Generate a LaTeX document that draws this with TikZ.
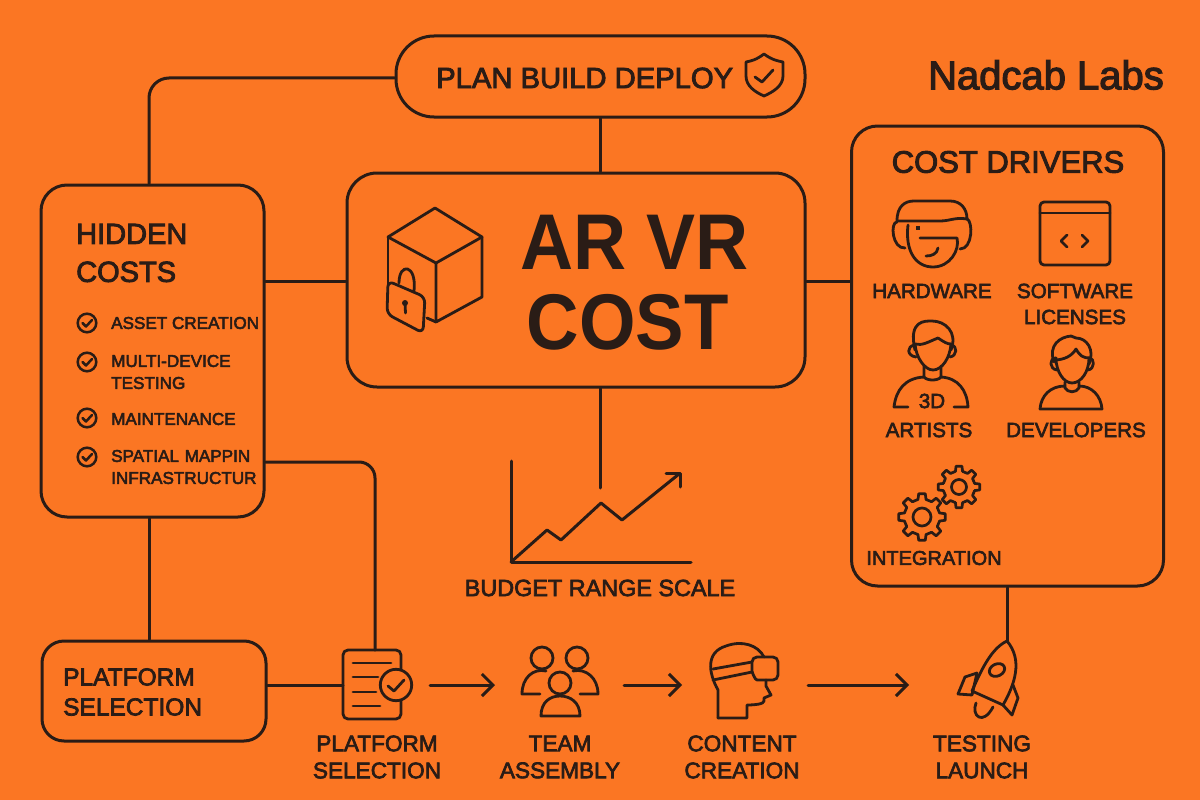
\documentclass[tikz,border=0pt]{standalone}
\usepackage{fontspec}
\setmainfont{Liberation Sans}
\newfontfamily\medf[FakeBold=3]{Liberation Sans}
\usetikzlibrary{arrows.meta,calc}
\definecolor{bgor}{HTML}{FB7623}
\definecolor{ink}{HTML}{2A1C16}
\tikzset{
 x=1pt,y=-1pt,
 ln/.style={draw=ink,line width=3pt,line cap=round,line join=round},
 ic/.style={draw=ink,line width=2.8pt,line cap=round,line join=round},
 lbl/.style={text=ink,align=center,inner sep=0pt,font=\medf\fontsize{20.6}{26}\selectfont,anchor=center},
 small/.style={text=ink,align=left,inner sep=0pt,font=\medf\fontsize{17.1}{22}\selectfont,anchor=west},
 arr/.style={ln,-{Straight Barb[length=11pt,width=22pt,line width=3pt]}},
}
\newcommand\gearat[5]{\draw[ic,line width=2.7pt] (#1,#2) circle (#5pt);
 \foreach \a in {0,45,...,315}{
  \draw[ic,line width=2.7pt] ($(#1,#2)+({\a-13}:#3pt)$) -- ($(#1,#2)+({\a-8}:#4pt)$) -- ($(#1,#2)+({\a+8}:#4pt)$) -- ($(#1,#2)+({\a+13}:#3pt)$) -- ($(#1,#2)+({\a+32}:#3pt)$);
 }}
\begin{document}
\begin{tikzpicture}
\fill[bgor] (0,0) rectangle (1200,800);
\useasboundingbox (0,0) rectangle (1200,800);
\node[draw=ink,line width=3pt,rounded corners=38pt,minimum width=409pt,minimum height=81pt,inner sep=0pt] (top) at (600.5,76.5) {};
\node[lbl,anchor=west,font=\medf\fontsize{29.2}{30}\selectfont] (plan) at (436,78) {PLAN BUILD DEPLOY};
\node[text=ink,inner sep=0pt,anchor=east,font=\medf\fontsize{40}{42}\selectfont] (brand) at (1164,75) {Nadcab Labs};
\node[draw=ink,line width=3pt,rounded corners=30pt,minimum width=458pt,minimum height=214pt,inner sep=0pt] (main) at (576,280) {};
\node[lbl,font=\fontsize{79}{80}\selectfont\bfseries] (arv) at (634.5,242) {\scalebox{0.93}[1]{AR VR}};
\node[lbl,font=\fontsize{79}{80}\selectfont\bfseries] (cost) at (627.5,322) {\scalebox{0.92}[1]{COST}};
\node[draw=ink,line width=3pt,rounded corners=26pt,minimum width=223pt,minimum height=332pt,inner sep=0pt] (hid) at (152.5,351) {};
\node[lbl,anchor=west,font=\medf\fontsize{29}{38}\selectfont,align=left] (hc) at (76,253) {HIDDEN\\COSTS};
\node[small] (s1) at (111,323) {ASSET CREATION};
\node[small,text width=140pt] (s2) at (111,372) {MULTI-DEVICE\\TESTING};
\node[small] (s3) at (111,419) {MAINTENANCE};
\node[small,text width=150pt] (s4) at (111,467) {SPATIAL MAPPIN\\INFRASTRUCTUR};
\node[draw=ink,line width=3pt,rounded corners=26pt,minimum width=312pt,minimum height=460pt,inner sep=0pt] (drv) at (1007.5,356) {};
\node[lbl,font=\medf\fontsize{31}{34}\selectfont] (cd) at (1008,162) {COST DRIVERS};
\node[lbl] (hw) at (932,291) {HARDWARE};
\node[lbl] (sw) at (1075,304) {SOFTWARE\\LICENSES};
\node[lbl] (td) at (932,401) {3D};
\node[lbl] (ar) at (929,430) {ARTISTS};
\node[lbl] (de) at (1076,430) {DEVELOPERS};
\node[lbl,font=\medf\fontsize{20}{26}\selectfont] (in) at (934,558) {INTEGRATION};
\node[draw=ink,line width=3pt,rounded corners=22pt,minimum width=224pt,minimum height=100pt,inner sep=0pt] (ps) at (154,691) {};
\node[lbl,anchor=west,font=\medf\fontsize{24.5}{30}\selectfont,align=left] (pst) at (63,692) {PLATFORM\\SELECTION};
\node[lbl,font=\medf\fontsize{23.4}{27}\selectfont] (br) at (600,588) {BUDGET RANGE SCALE};
\node[lbl,font=\medf\fontsize{22.6}{27}\selectfont] (l1) at (377,757) {PLATFORM\\SELECTION};
\node[lbl,font=\medf\fontsize{22.6}{27}\selectfont] (l2) at (560,757) {TEAM\\ASSEMBLY};
\node[lbl,font=\medf\fontsize{22.6}{27}\selectfont] (l3) at (742,757) {CONTENT\\CREATION};
\node[lbl,font=\medf\fontsize{22.6}{27}\selectfont] (l4) at (982,757) {TESTING\\LAUNCH};
% icon anchors
\coordinate (doc) at (343,685);
\coordinate (docT) at (375,650);
\coordinate (rock) at (1007,642);
\coordinate (stem) at (600,488);
\draw[ln,rounded corners=20pt] (hid.north -| 149,0) -- (149,78) -- (top.west |- 0,78);
\draw[ln,rounded corners=16pt] (hid.east |- 0,462) -- (375,462) -- (docT);
\draw[ln] (top.south) -- (main.north -| top.south);
\draw[ln] (hid.east |- 0,281) -- (main.west |- 0,281);
\draw[ln] (main.east |- 0,281) -- (drv.west |- 0,281);
\draw[ln] (main.south -| stem) -- (stem);
\draw[ln] (hid.south -| 149,0) -- (ps.north -| 149,0);
\draw[ln] (ps.east |- doc) -- (doc);
\draw[ln] (drv.south -| rock) -- (rock);
\coordinate (a1) at (430,685); \coordinate (a2) at (495,685);
\coordinate (b1) at (624,685); \coordinate (b2) at (682,685);
\coordinate (c1) at (808,685); \coordinate (c2) at (909,685);
\draw[arr] (a1) -- (a2);
\draw[arr] (b1) -- (b2);
\draw[arr] (c1) -- (c2);
% shield
\draw[ic] (764,54) .. controls (756,60) and (751,61) .. (746,62) -- (746,76) .. controls (746,86) and (755,92) .. (764,96) .. controls (773,92) and (783,86) .. (783,76) -- (783,62) .. controls (778,61) and (772,60) .. (764,54) -- cycle;
\draw[ic] (755,77) -- (762,82) -- (773,70);
% cube
\draw[ic] (388,237) -- (435,208) -- (482,237) -- (436,263) -- cycle;
\draw[ic] (436,263) -- (436,322) -- (482,297) -- (482,237);
\draw[ic] (388,237) -- (388,305);
\draw[ic] (436,322) -- (427,318);
\draw[ic] (399,283) .. controls (399,262) and (417,264) .. (414,291);
\draw[ic,rounded corners=6pt,fill=bgor] (388,281) -- (425,297) -- (423,333) -- (387,314) -- cycle;
\fill[ink] (405,303) circle (3pt);
\draw[ic] (405,303) -- (405.5,313);
% checks
\foreach \y in {323,362,418,457}{
 \draw[ic,line width=2.5pt] (87,\y) circle (9.3pt);
 \draw[ic,line width=2.5pt] (82.5,\y) -- (86,\y+3.5) -- (92,\y-3);
}
% chart
\draw[ln] (511,461) -- (511,562) -- (691,562);
\draw[ln] (511,562) -- (547,530) -- (561,540) -- (601,503) -- (622,520) -- (679,474);
\draw[ln] (666,473) -- (680,473) -- (680,487);
% headset person
\draw[ic] (897,221) .. controls (897,206) and (905,201) .. (914,201) -- (950,201) .. controls (961,201) and (967,209) .. (967,219) .. controls (955,217) and (950,221) .. (940,221) -- (897,221);
\draw[ic] (897,222) .. controls (890,222) and (892,249) .. (905,248);
\draw[ic] (967,219) .. controls (973,221) and (973,249) .. (960,249);
\draw[ic] (908,225) .. controls (905,250) and (915,267) .. (933,267) .. controls (950,267) and (960,250) .. (957,238) -- (920,238);
\fill[ink] (916,226) rectangle +(4,4);
\draw[ic] (926,256) .. controls (932,256) and (937,254) .. (938,248);
% window
\draw[ic,rounded corners=4pt] (1040,202) rectangle (1110,265);
\draw[ic] (1040,213) -- (1110,213);
\draw[ic] (1067,235) -- (1061,241) -- (1067,247);
\draw[ic] (1082,235) -- (1088,241) -- (1082,247);
% artist
\draw[ic] (915,350) .. controls (908,320) and (925,321) .. (932,321) .. controls (945,321) and (958,332) .. (951,350);
\draw[ic] (915,344) .. controls (922,346) and (928,342) .. (938,338) .. controls (944,342) and (947,344) .. (951,344);
\draw[ic] (915,344) .. controls (916,358) and (925,370) .. (933,370) .. controls (942,370) and (950,358) .. (951,344);
\draw[ic] (915,345) .. controls (906,346) and (907,356) .. (916,357);
\draw[ic] (951,345) .. controls (958,346) and (957,356) .. (950,357);
\draw[ic] (924,366) -- (924,377) .. controls (927,381) and (938,381) .. (941,377) -- (941,366);
\draw[ic] (924,377) .. controls (905,378) and (896,390) .. (894,407) -- (908,407);
\draw[ic] (941,377) .. controls (958,378) and (967,390) .. (968,407) -- (954,407);
% developer
\draw[ic] (1054,362) .. controls (1048,345) and (1060,337) .. (1071,336) -- (1076,338) .. controls (1087,338) and (1095,350) .. (1089,364);
\draw[ic] (1054,360) .. controls (1064,360) and (1072,356) .. (1076,349) .. controls (1080,356) and (1083,358) .. (1090,358);
\draw[ic] (1056,358) .. controls (1056,372) and (1064,383) .. (1072,383) .. controls (1081,383) and (1089,372) .. (1089,358);
\draw[ic] (1056,358) .. controls (1049,358) and (1049,369) .. (1057,370);
\draw[ic] (1089,358) .. controls (1095,358) and (1095,369) .. (1088,370);
\draw[ic] (1065,382) -- (1065,388) .. controls (1068,393) and (1076,393) .. (1079,388) -- (1079,382);
\draw[ic] (1065,386) .. controls (1050,386) and (1041,396) .. (1040,409) -- (1102,409) .. controls (1101,396) and (1092,386) .. (1079,386);
% gears
\gearat{922}{517}{18}{23.5}{9}
\gearat{959}{487}{16}{21}{7.5}
% document
\draw[ic,rounded corners=5pt] (343,650) rectangle (401,719);
\draw[ic] (353,663) -- (391,663);
\draw[ic] (353,677) -- (378,677);
\draw[ic] (353,692) -- (376,692);
\draw[ic] (353,706) -- (380,706);
\draw[ic,fill=bgor] (396,685) circle (15.7pt);
\draw[ic] (388,686) -- (394,691) -- (404,680);
% team
\draw[ic] (542,658) circle (11pt);
\draw[ic] (577,658) circle (11pt);
\draw[ic] (546,671) .. controls (533,668) and (522,678) .. (522,694) -- (540,694);
\draw[ic] (573,671) .. controls (586,668) and (598,678) .. (598,694) -- (580,694);
\draw[ic,fill=bgor] (560,683) circle (11pt);
\draw[ic] (541,716) .. controls (541,702) and (550,696) .. (560,696) .. controls (570,696) and (580,702) .. (580,716) -- cycle;
% vr head
\draw[ic] (718,718) -- (718,690) .. controls (708,672) and (706,652) .. (726,646) .. controls (742,640) and (758,645) .. (764,657);
\draw[ic] (713,669) -- (752,662);
\draw[ic] (713,680) -- (752,672);
\draw[ic,rounded corners=5pt] (752,657) -- (778,657) -- (778,680) -- (762,680) .. controls (755,680) and (752,672) .. (752,666) -- cycle;
\draw[ic] (766,680) -- (766,686) -- (771,695) -- (764,698) -- (764,701) .. controls (764,704) and (755,705) .. (747,705) -- (747,718) -- (718,718);
% rocket
\draw[ic] (1007,641) .. controls (992,648) and (982,668) .. (972,691) -- (1003,705) .. controls (1015,684) and (1023,660) .. (1007,641) -- cycle;
\draw[ic,rotate around={25:(997,670)}] (997,670) ellipse (8pt and 6pt);
\draw[ic] (965,677) -- (958,694) -- (972,695) -- (977,673) -- cycle;
\draw[ic] (1003,705) -- (1012,715) -- (1018,698) -- (1013,685);
\draw[ic] (976,703) .. controls (971,716) and (983,726) .. (993,707);
\end{tikzpicture}
\end{document}
